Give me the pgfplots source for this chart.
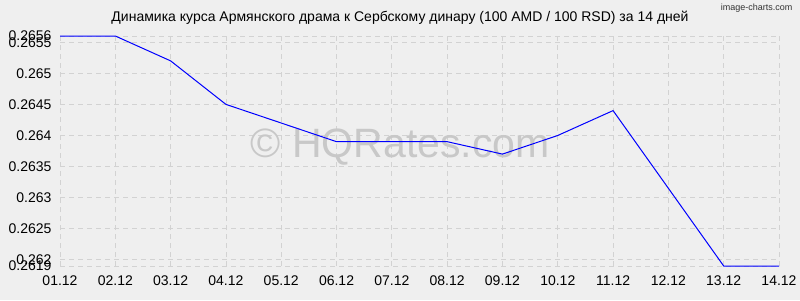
\documentclass[border=0pt]{standalone}
\usepackage{pgfplots}
\pgfplotsset{compat=1.18}
\usepackage{fontspec}
\setmainfont{Liberation Sans}
\definecolor{bg}{RGB}{239,239,239}
\definecolor{gridc}{RGB}{210,210,210}
\definecolor{wm}{RGB}{200,200,200}
\begin{document}
\begin{tikzpicture}[x=1pt,y=1pt]
\fill[bg] (0,0) rectangle (800,300);
\useasboundingbox (0,0) rectangle (800,300);
\node[font=\fontsize{14}{16}\selectfont] at (400,282) {Динамика курса Армянского драма к Сербскому динару (100 AMD / 100 RSD) за 14 дней};
\node[font=\fontsize{9}{10}\selectfont, anchor=east, text=black!80] at (796,292) {image-charts.com};
\begin{axis}[
  at={(60pt,34pt)}, anchor=south west,
  scale only axis, width=719pt, height=230pt,
  xmin=0, xmax=13, ymin=0.2619, ymax=0.2656,
  axis line style={draw=none},
  major tick length=0pt,
  scaled y ticks=false,
  xtick={0,1,2,3,4,5,6,7,8,9,10,11,12,13},
  xticklabels={01.12,02.12,03.12,04.12,05.12,06.12,07.12,08.12,09.12,10.12,11.12,12.12,13.12,14.12},
  ytick={0.2619,0.262,0.2625,0.263,0.2635,0.264,0.2645,0.265,0.2655,0.2656},
  yticklabels={0.2619,0.262,0.2625,0.263,0.2635,0.264,0.2645,0.265,0.2655,0.2656},
  grid=major,
  major grid style={gridc, dash pattern=on 5pt off 4pt, line width=0.8pt},
  tick label style={font=\fontsize{14}{16}\selectfont},
  xticklabel style={yshift=-6pt},
  yticklabel style={xshift=-5pt},
  clip=false,
]
\node[font=\fontsize{41}{45}\selectfont, text=wm] at (axis cs:6.15,0.26381) {© HQRates.com};
\addplot[blue, line width=1pt] coordinates {
(0,0.2656) (1,0.2656) (2,0.2652) (3,0.2645) (4,0.2642) (5,0.2639) (6,0.2639)
(7,0.2639) (8,0.2637) (9,0.2640) (10,0.2644) (11,0.26315) (12,0.2619) (13,0.2619)
};
\end{axis}
\end{tikzpicture}
\end{document}
